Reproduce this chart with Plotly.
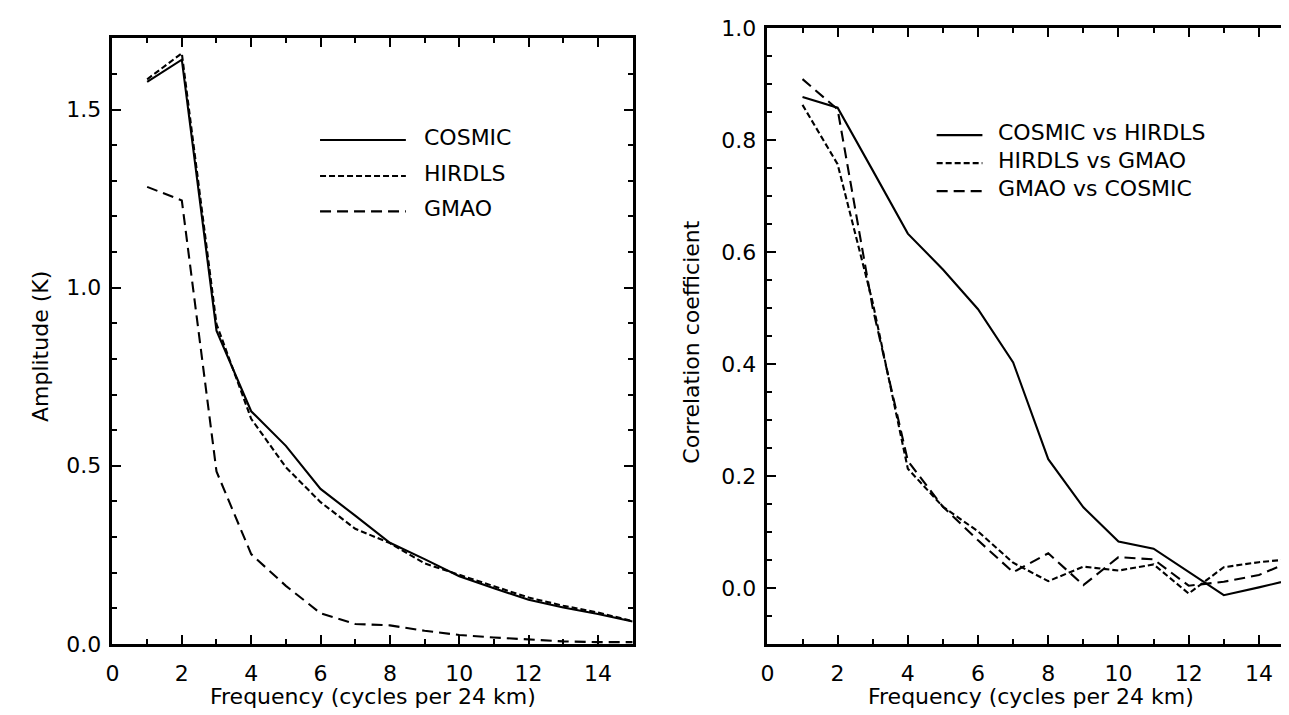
import plotly.graph_objects as go

W, H = 1289, 715

# ---------------- data ----------------
freq = list(range(1, 16))

amp_cosmic = [1.578, 1.640, 0.879, 0.653, 0.556, 0.435, 0.360, 0.284, 0.238, 0.190,
              0.156, 0.124, 0.102, 0.084, 0.063]
amp_hirdls = [1.585, 1.658, 0.898, 0.632, 0.496, 0.398, 0.323, 0.283, 0.226, 0.195,
              0.162, 0.130, 0.107, 0.088, 0.064]
amp_gmao = [1.283, 1.245, 0.484, 0.252, 0.163, 0.086, 0.056, 0.052, 0.037, 0.025,
            0.018, 0.012, 0.007, 0.005, 0.005]

corr_cosmic_hirdls = [0.877, 0.858, 0.746, 0.633, 0.569, 0.498, 0.403, 0.230, 0.144, 0.083,
                      0.070, 0.028, -0.013, 0.001, 0.016]
corr_hirdls_gmao = [0.863, 0.757, 0.510, 0.213, 0.145, 0.101, 0.045, 0.012, 0.038, 0.031,
                    0.042, -0.010, 0.037, 0.046, 0.052]
corr_gmao_cosmic = [0.909, 0.855, 0.500, 0.227, 0.145, 0.085, 0.028, 0.062, 0.005, 0.055,
                    0.051, 0.004, 0.011, 0.023, 0.050]

left_names = ["COSMIC", "HIRDLS", "GMAO"]
right_names = ["COSMIC vs HIRDLS", "HIRDLS vs GMAO", "GMAO vs COSMIC"]

x_ticks = [0, 2, 4, 6, 8, 10, 12, 14]
x_ticktext = ["0", "2", "4", "6", "8", "10", "12", "14"]
left_y_ticks = [0.0, 0.5, 1.0, 1.5]
left_y_ticktext = ["0.0", "0.5", "1.0", "1.5"]
right_y_ticks = [0.0, 0.2, 0.4, 0.6, 0.8, 1.0]
right_y_ticktext = ["0.0", "0.2", "0.4", "0.6", "0.8", "1.0"]

x_title = "Frequency (cycles per 24 km)"
left_y_title = "Amplitude (K)"
right_y_title = "Correlation coefficient"

# ---------------- styling ----------------
FONT = "DejaVu Sans"
dashes = ["solid", "6px,3px", "11px,6px"]
LW = 2.1


def px2paper(x, y):
    return x / W, 1 - y / H


# plot areas in pixels
L_x0, L_x1, L_y0, L_y1 = 98, 621, 19, 646.5
R_x0, R_x1, R_y0, R_y1 = 756.5, 1286, 8.5, 646.5

fig = go.Figure()

for vals, name, dash in zip([amp_cosmic, amp_hirdls, amp_gmao], left_names, dashes):
    fig.add_trace(go.Scatter(x=freq, y=vals, mode="lines", name=name,
                             line=dict(color="black", width=LW, dash=dash),
                             xaxis="x", yaxis="y", showlegend=False))

for vals, name, dash in zip([corr_cosmic_hirdls, corr_hirdls_gmao, corr_gmao_cosmic], right_names, dashes):
    fig.add_trace(go.Scatter(x=freq, y=vals, mode="lines", name=name,
                             line=dict(color="black", width=LW, dash=dash),
                             xaxis="x2", yaxis="y2", showlegend=False))

tickfont = dict(family=FONT, size=22, color="black")

common_x = dict(range=[0, 15], tickmode="array", tickvals=x_ticks, ticktext=x_ticktext,
                ticks="inside", ticklen=9, tickwidth=2,
                tickcolor="black", showline=True, linewidth=2.5, linecolor="black",
                mirror="ticks", showgrid=False, zeroline=False, tickfont=tickfont,
                minor=dict(dtick=1, tick0=0, ticks="inside", ticklen=5, tickwidth=2, tickcolor="black",
                           showgrid=False),
                ticklabelstandoff=8, ticklabeloverflow="allow", fixedrange=True)
common_y = dict(ticks="inside", ticklen=9, tickwidth=2, tickcolor="black",
                showline=True, linewidth=2.5, linecolor="black", mirror="ticks",
                showgrid=False, zeroline=False, tickfont=tickfont,
                ticklabelstandoff=4, ticklabeloverflow="allow", fixedrange=True)

fig.update_layout(
    width=W, height=H,
    margin=dict(l=0, r=0, t=0, b=0),
    paper_bgcolor="white", plot_bgcolor="white",
    xaxis=dict(domain=[L_x0 / W, L_x1 / W], anchor="y", **common_x),
    yaxis=dict(domain=[1 - L_y1 / H, 1 - L_y0 / H], anchor="x", range=[0, 1.7],
               tickmode="array", tickvals=left_y_ticks, ticktext=left_y_ticktext,
               minor=dict(dtick=0.1, tick0=0, ticks="inside", ticklen=5, tickwidth=2, tickcolor="black",
                          showgrid=False),
               **common_y),
    xaxis2=dict(domain=[R_x0 / W, R_x1 / W], anchor="y2", **common_x),
    yaxis2=dict(domain=[1 - R_y1 / H, 1 - R_y0 / H], anchor="x2", range=[-0.1, 1.0],
                tickmode="array", tickvals=right_y_ticks, ticktext=right_y_ticktext,
                minor=dict(dtick=0.05, tick0=0, ticks="inside", ticklen=5, tickwidth=2, tickcolor="black",
                           showgrid=False),
                **common_y),
    showlegend=False,
)

textfont = dict(family=FONT, size=22, color="black")

# axis titles as annotations
for cx, cy, txt, ang in [((L_x0 + L_x1) / 2, 701, x_title, 0),
                         ((R_x0 + R_x1) / 2, 701, x_title, 0),
                         (25, 338, left_y_title, -90),
                         (680, 334, right_y_title, -90)]:
    px_, py_ = px2paper(cx, cy)
    fig.add_annotation(x=px_, y=py_, xref="paper", yref="paper", text=txt, showarrow=False,
                       xanchor="center", yanchor="middle", textangle=ang, font=textfont)

# legends (line samples + labels)
legend_specs = [
    (306.7, 393, 409, [124.3, 161.7, 198.3], left_names),
    (926.7, 972.7, 986, [119.3, 148.3, 177.3], right_names),
]
for lx0, lx1, tx, ys, names in legend_specs:
    for yy, name, dash in zip(ys, names, dashes):
        a0, b0 = px2paper(lx0, yy)
        a1, b1 = px2paper(lx1, yy)
        fig.add_shape(type="line", xref="paper", yref="paper", x0=a0, y0=b0, x1=a1, y1=b1,
                      line=dict(color="black", width=LW, dash=dash))
        t0, tb = px2paper(tx, yy - 2.5)
        fig.add_annotation(x=t0, y=tb, xref="paper", yref="paper", text=name, showarrow=False,
                           xanchor="left", yanchor="middle", font=textfont)

fig.write_html("out.html")
